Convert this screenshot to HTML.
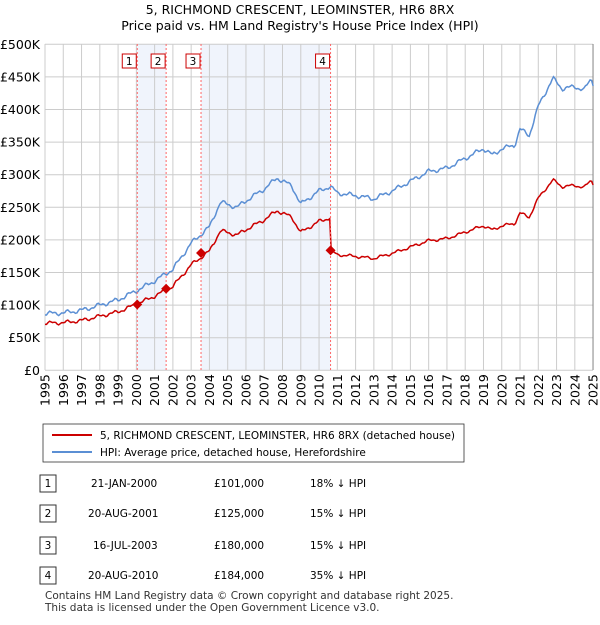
<!DOCTYPE html>
<html><head><style>
body{margin:0;background:#fff;font-family:"Liberation Sans","DejaVu Sans",sans-serif;}
</style></head><body>
<svg id="s" width="600" height="620" xmlns="http://www.w3.org/2000/svg" font-family="DejaVu Sans, Liberation Sans, sans-serif">
<text x="300" y="14" font-size="12.5" text-anchor="middle">5, RICHMOND CRESCENT, LEOMINSTER, HR6 8RX</text>
<text x="300" y="30" font-size="12.5" text-anchor="middle">Price paid vs. HM Land Registry's House Price Index (HPI)</text>
<g id="plot"></g>
<rect x="43" y="424" width="421" height="38" fill="#fff" stroke="#333" stroke-width="0.8"/>
<line x1="52" y1="435" x2="92" y2="435" stroke="#cc0000" stroke-width="2"/>
<text x="100" y="439" font-size="10.5">5, RICHMOND CRESCENT, LEOMINSTER, HR6 8RX (detached house)</text>
<line x1="52" y1="452" x2="92" y2="452" stroke="#5b8fd4" stroke-width="2"/>
<text x="100" y="456" font-size="10.5">HPI: Average price, detached house, Herefordshire</text>
<g font-size="10.5">
<rect x="40" y="475" width="16" height="17" fill="#fff" stroke="#333"/><text x="48" y="487" text-anchor="middle">1</text>
<text x="91" y="487">21-JAN-2000</text><text x="214" y="487">£101,000</text><text x="310" y="487">18% ↓ HPI</text>
<rect x="40" y="505" width="16" height="17" fill="#fff" stroke="#333"/><text x="48" y="517" text-anchor="middle">2</text>
<text x="88" y="517">20-AUG-2001</text><text x="214" y="517">£125,000</text><text x="310" y="517">15% ↓ HPI</text>
<rect x="40" y="537" width="16" height="17" fill="#fff" stroke="#333"/><text x="48" y="549" text-anchor="middle">3</text>
<text x="93" y="549">16-JUL-2003</text><text x="214" y="549">£180,000</text><text x="310" y="549">15% ↓ HPI</text>
<rect x="40" y="567" width="16" height="17" fill="#fff" stroke="#333"/><text x="48" y="579" text-anchor="middle">4</text>
<text x="88" y="579">20-AUG-2010</text><text x="214" y="579">£184,000</text><text x="310" y="579">35% ↓ HPI</text>
<text x="45" y="599" fill="#333">Contains HM Land Registry data © Crown copyright and database right 2025.</text>
<text x="45" y="611" fill="#333">This data is licensed under the Open Government Licence v3.0.</text>
</g>
</svg>
<script>
const X0=45,PX=18.27,Y0=370.3,PY=0.652;
const X=t=>X0+(t-1995)*PX, Y=v=>Y0-v*PY;
let h='';
h+=`<rect x="${X(2000.05)}" y="44" width="${X(2001.63)-X(2000.05)}" height="326" fill="#f0f4fc"/>`;
h+=`<rect x="${X(2003.54)}" y="44" width="${X(2010.63)-X(2003.54)}" height="326" fill="#f0f4fc"/>`;
for(let v=0;v<=500;v+=50){h+=`<line x1="45" x2="593" y1="${Y(v)}" y2="${Y(v)}" stroke="#ccc"/>`;
h+=`<text x="40" y="${Y(v)+4.5}" font-size="12.5" text-anchor="end">${v?'£'+v+'K':'£0'}</text>`;}
for(let y=1995;y<=2025;y++){h+=`<line x1="${X(y)}" x2="${X(y)}" y1="44" y2="370" stroke="#ccc"/>`;
h+=`<text transform="translate(${X(y)+4.5},406) rotate(-90)" font-size="12.5">${y}</text>`;}
h+=`<line x1="593" x2="593" y1="44" y2="370" stroke="#888"/>`;
const K=[[1995,87],[1996,88],[1997,92],[1998,100],[1999,108],[2000,122],[2001,137],[2002,155],[2003,195],[2004,220],[2004.6,258],[2005.5,250],[2006,260],[2007,278],[2007.7,295],[2008.5,283],[2009,255],[2010,275],[2010.6,282],[2011,272],[2012,268],[2013,263],[2014,275],[2015,290],[2016,305],[2017,310],[2018,325],[2019,340],[2019.5,330],[2020,340],[2020.7,345],[2021,370],[2021.5,360],[2022,405],[2022.8,448],[2023.3,432],[2024,435],[2024.5,430],[2024.9,447],[2025,440]];
function hpi(t){for(let i=0;i<K.length-1;i++){if(t<=K[i+1][0]){const f=(t-K[i][0])/(K[i+1][0]-K[i][0]);return K[i][1]+f*(K[i+1][1]-K[i][1]);}}return 440;}
let pb='',pr='';
for(let t=1995;t<=2025;t+=1/12){let n=Math.sin(t*7.3)*2.5+Math.sin(t*19.1)*1.5;let v=hpi(t)+n;
let f=t<2010.63?0.83:0.652;let r=v*f;
pb+=(pb?'L':'M')+X(t).toFixed(1)+','+Y(v).toFixed(1);
pr+=(pr?'L':'M')+X(t).toFixed(1)+','+Y(r).toFixed(1);}
h+=`<path d="${pb}" fill="none" stroke="#5b8fd4" stroke-width="1.5"/>`;
h+=`<path d="${pr}" fill="none" stroke="#cc0000" stroke-width="1.5"/>`;
const S=[[2000.05,101,1],[2001.63,125,2],[2003.54,180,3],[2010.63,184,4]];
S.forEach(([t,v,n])=>{const x=X(t);
h+=`<line x1="${x}" x2="${x}" y1="44" y2="370" stroke="#f66" stroke-dasharray="2,2"/>`;
h+=`<rect x="${x-15}" y="54" width="14" height="14" fill="#fff" stroke="#cc0000"/><text x="${x-8}" y="65" font-size="10.5" text-anchor="middle">${n}</text>`;
h+=`<path d="M${x-5},${Y(v)}L${x},${Y(v)-5}L${x+5},${Y(v)}L${x},${Y(v)+5}Z" fill="#cc0000"/>`;});
document.getElementById('plot').innerHTML=h;
</script>
</body></html>
